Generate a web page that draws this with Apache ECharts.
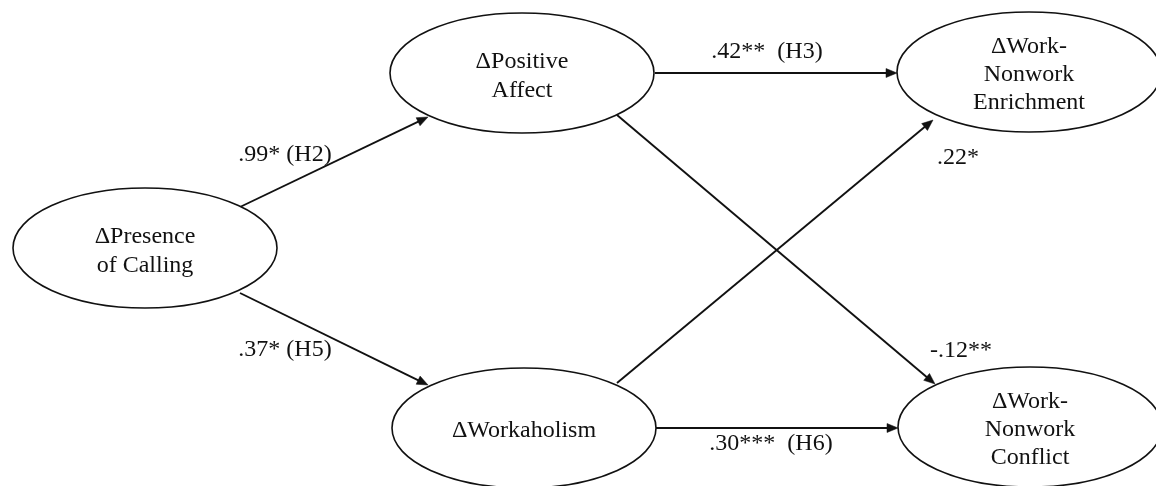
<!DOCTYPE html>
<html>
<head>
<meta charset="utf-8">
<script src="https://cdn.jsdelivr.net/npm/echarts@6/dist/echarts.min.js"></script>
<style>
  html, body { margin: 0; padding: 0; background: #fff; }
  #chart { width: 1156px; height: 486px; }
</style>
</head>
<body>
<div id="chart"></div>
<script>
// ---- Data ----
const nodeNames = ['ΔPresence\nof Calling', 'ΔPositive\nAffect', 'ΔWorkaholism', 'ΔWork-\nNonwork\nEnrichment', 'ΔWork-\nNonwork\nConflict'];
const nodeX = [145, 522, 524, 1029, 1030];
const nodeY = [248, 73, 428, 72, 427];
const nodeRx = 132;
const nodeRy = 60;

const edgeStart = [[240, 207], [240, 293], [655, 73], [656, 428], [617, 115], [617, 383]];
const edgeEnd   = [[428, 117], [428, 385], [897, 73], [898, 428], [935, 384], [933, 120]];

const edgeLabels = ['.99* (H2)', '.37* (H5)', '.42**  (H3)', '.30***  (H6)', '-.12**', '.22*'];
const edgeLabelX = [285, 285, 767, 771, 961, 958];
const edgeLabelY = [155, 350, 52, 444, 351, 158];

// ---- Chart ----
const FONT = '24px "Liberation Serif", "Times New Roman", serif';
const chart = echarts.init(document.getElementById('chart'), null, { renderer: 'canvas' });

const nodeData = nodeX.map((x, i) => [x, nodeY[i], i]);
const edgeData = edgeStart.map((s, i) => [s[0], s[1], edgeEnd[i][0], edgeEnd[i][1]]);
const labelData = edgeLabelX.map((x, i) => [x, edgeLabelY[i], i]);

chart.setOption({
  animation: false,
  backgroundColor: '#ffffff',
  grid: { left: 0, right: 0, top: 0, bottom: 0 },
  xAxis: { type: 'value', min: 0, max: 1156, show: false },
  yAxis: { type: 'value', min: 0, max: 486, inverse: true, show: false },
  series: [
    {
      type: 'custom',
      coordinateSystem: 'cartesian2d',
      data: edgeData,
      encode: { x: [0, 2], y: [1, 3] },
      z: 1,
      silent: true,
      renderItem: function (params, api) {
        const p1 = api.coord([api.value(0), api.value(1)]);
        const p2 = api.coord([api.value(2), api.value(3)]);
        const dx = p2[0] - p1[0], dy = p2[1] - p1[1];
        const len = Math.sqrt(dx * dx + dy * dy);
        const ux = dx / len, uy = dy / len;
        const nx = -uy, ny = ux;
        const L = 11, W = 4.5;
        const b = [p2[0] - ux * L, p2[1] - uy * L];
        return {
          type: 'group',
          children: [
            {
              type: 'line',
              shape: { x1: p1[0], y1: p1[1], x2: b[0] + ux * 2, y2: b[1] + uy * 2 },
              style: { stroke: '#111', lineWidth: 1.9 }
            },
            {
              type: 'polygon',
              shape: { points: [p2, [b[0] + nx * W, b[1] + ny * W], [b[0] - nx * W, b[1] - ny * W]] },
              style: { fill: '#111', stroke: '#111', lineWidth: 0.5 }
            }
          ]
        };
      }
    },
    {
      type: 'custom',
      coordinateSystem: 'cartesian2d',
      data: nodeData,
      encode: { x: 0, y: 1 },
      z: 2,
      silent: true,
      renderItem: function (params, api) {
        const c = api.coord([api.value(0), api.value(1)]);
        const sz = api.size([nodeRx, nodeRy]);
        const idx = api.value(2);
        const lines = nodeNames[idx].split('\n').length;
        return {
          type: 'group',
          children: [
            {
              type: 'ellipse',
              shape: { cx: c[0], cy: c[1], rx: sz[0], ry: sz[1] },
              style: { fill: '#fff', stroke: '#111', lineWidth: 1.6 }
            },
            {
              type: 'text',
              x: c[0],
              y: c[1] + 3,
              style: {
                text: nodeNames[idx],
                font: FONT,
                fill: '#111',
                align: 'center',
                verticalAlign: 'middle',
                lineHeight: lines === 3 ? 28 : 29
              }
            }
          ]
        };
      }
    },
    {
      type: 'custom',
      coordinateSystem: 'cartesian2d',
      data: labelData,
      encode: { x: 0, y: 1 },
      z: 3,
      silent: true,
      renderItem: function (params, api) {
        const c = api.coord([api.value(0), api.value(1)]);
        return {
          type: 'text',
          x: c[0],
          y: c[1],
          style: {
            text: edgeLabels[api.value(2)],
            font: FONT,
            fill: '#111',
            align: 'center',
            verticalAlign: 'middle'
          }
        };
      }
    }
  ]
});
</script>
</body>
</html>
